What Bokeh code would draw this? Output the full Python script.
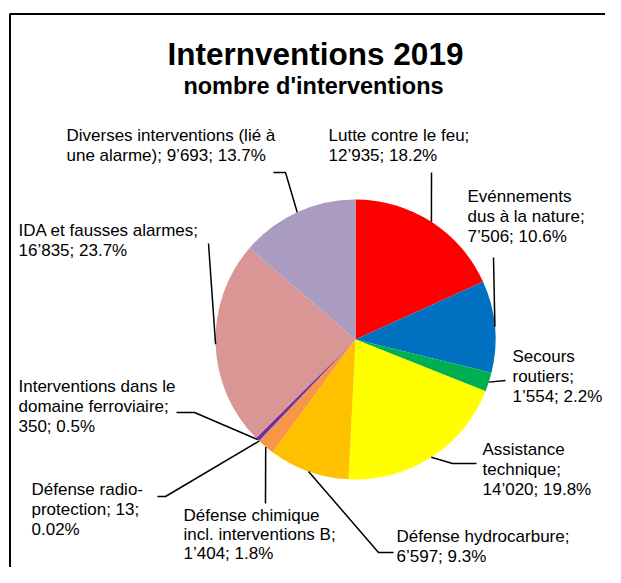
import numpy as np
from bokeh.plotting import figure
from bokeh.models import Range1d, ColumnDataSource
from bokeh.embed import file_html
from bokeh.resources import INLINE
from bokeh.core.properties import value

# ---------------- data ----------------
title_text = "Internventions 2019"
subtitle_text = "nombre d'interventions"
categories = [
    "Lutte contre le feu",
    "Evénnements\ndus à la nature",
    "Secours\nroutiers",
    "Assistance\ntechnique",
    "Défense hydrocarbure",
    "Défense chimique\nincl. interventions B",
    "Défense radio-\nprotection",
    "Interventions dans le\ndomaine ferroviaire",
    "IDA et fausses alarmes",
    "Diverses interventions (lié à\nune alarme)",
]
counts = [12935, 7506, 1554, 14020, 6597, 1404, 13, 350, 16835, 9693]
percent_labels = ["18.2%", "10.6%", "2.2%", "19.8%", "9.3%", "1.8%", "0.02%", "0.5%", "23.7%", "13.7%"]
colors = ["#FF0000", "#0070C0", "#00B050", "#FFFF00", "#FFC000",
          "#F79646", "#4F81BD", "#7030A0", "#D99694", "#AA9BC0"]

# ---------------- layout (screen pixels) ----------------
W, H = 605, 567
OFF = 0
TEXT_DY = -7
CX, CY, R = 355, 339, 140
FONT = "Liberation Sans"
# per label: left x, first baseline, line step, separators, leader points after pie edge
label_layout = [
    dict(x=328, y=142, lh=20, seps=(";\n", "; "), leader=[(431, 172)]),
    dict(x=467, y=203, lh=20, seps=(";\n", "; "), leader=[(493, 257)]),
    dict(x=512, y=363, lh=20, seps=(";\n", "; "), leader=[(505, 380)]),
    dict(x=482, y=456, lh=20, seps=(";\n", "; "), leader=[(452, 463), (476, 463)]),
    dict(x=396, y=543, lh=20, seps=(";\n", "; "), leader=[(378, 552), (393, 552)]),
    dict(x=183, y=522, lh=19, seps=(";\n", "; "), leader=[(265, 503)]),
    dict(x=31, y=496, lh=20, seps=("; ", ";\n"), leader=[(165, 496), (157, 496)]),
    dict(x=18, y=393, lh=20, seps=(";\n", "; "), leader=[(194, 412), (176, 412)]),
    dict(x=18, y=237, lh=20, seps=(";\n", "; "), leader=[(208, 243)]),
    dict(x=66, y=142, lh=20, seps=("; ", "; "), leader=[(285, 172), (273, 172)]),
]


def dx(sx):
    return sx - OFF


def dy(sy):
    return (H + OFF) - sy


p = figure(width=W, height=H, output_backend="svg", toolbar_location=None,
           x_range=Range1d(0, W), y_range=Range1d(0, H),
           x_axis_location=None, y_axis_location=None, min_border=0)
p.outline_line_color = None
p.xgrid.visible = False
p.ygrid.visible = False
p.background_fill_color = "white"
p.border_fill_color = "white"

# chart border (left and top visible in window)
p.line(x=[dx(9.5), dx(9.5), dx(W + OFF)], y=[dy(H + OFF), dy(13.5), dy(13.5)],
       line_color="black", line_width=2)

# pie
vals = np.array(counts, dtype=float)
frac = vals / vals.sum()
cum = np.concatenate([[0], np.cumsum(frac)])
start = np.pi / 2 - 2 * np.pi * cum[:-1]
end = np.pi / 2 - 2 * np.pi * cum[1:]
src = ColumnDataSource(dict(start=start, end=end, color=colors))
p.wedge(x=dx(CX), y=dy(CY), radius=R, start_angle="start", end_angle="end",
        direction="clock", fill_color="color", line_color=None, source=src)

# leader lines and labels
mid = (cum[:-1] + cum[1:]) / 2 * 2 * np.pi  # clockwise from top
lx, ly = [], []
tx, ty, tt = [], [], []
for i, lay in enumerate(label_layout):
    ex = CX + R * np.sin(mid[i])
    ey = CY - R * np.cos(mid[i])
    pts = [(ex, ey)] + lay["leader"]
    lx.append([dx(a) for a, b in pts])
    ly.append([dy(b) for a, b in pts])
    num = f"{counts[i]:,}".replace(",", "\u2019")
    s1, s2 = lay["seps"]
    label = categories[i] + s1 + num + s2 + percent_labels[i]
    for k, line in enumerate(label.split("\n")):
        tx.append(dx(lay["x"]))
        ty.append(dy(lay["y"] + k * lay["lh"] + TEXT_DY))
        tt.append(line)

p.multi_line(xs=lx, ys=ly, line_color="black", line_width=1.5)
p.text(x=tx, y=ty, text=tt, text_font=value(FONT), text_font_size="17px",
       text_align="left", text_baseline="alphabetic", text_color="black")

# titles
p.text(x=[dx(315)], y=[dy(60 + TEXT_DY)], text=[title_text], text_font=value(FONT),
       text_font_size="31.5px", text_font_style="bold", text_align="center",
       text_baseline="alphabetic", text_color="black")
p.text(x=[dx(313)], y=[dy(92 + TEXT_DY)], text=[subtitle_text], text_font=value(FONT),
       text_font_size="23.5px", text_font_style="bold", text_align="center",
       text_baseline="alphabetic", text_color="black")

open("out.html", "w").write(file_html(p, INLINE))
